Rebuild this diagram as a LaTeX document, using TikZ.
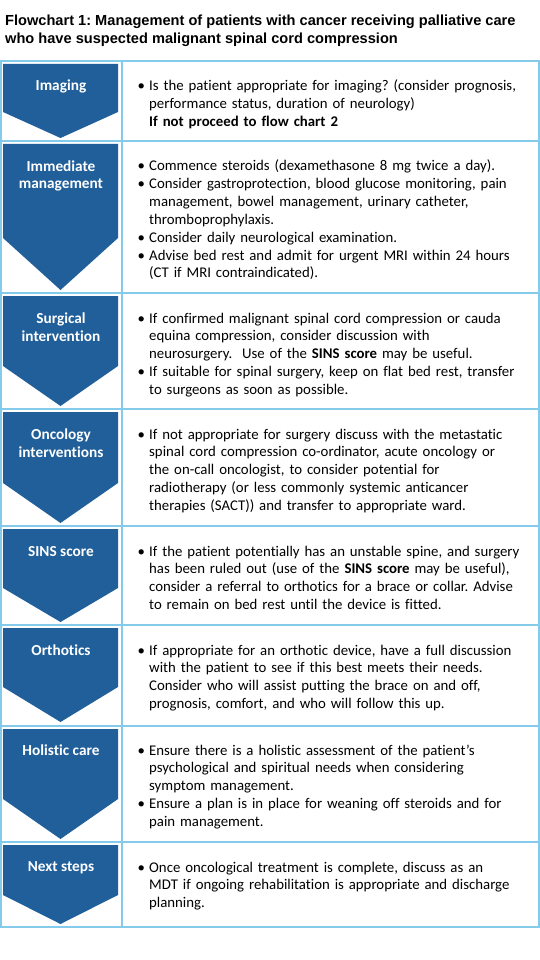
\documentclass[tikz,border=0pt]{standalone}
\usepackage{fontspec}
\setmainfont{Carlito}[Ligatures=NoCommon]
\newfontfamily\titlefont{Liberation Sans}
\definecolor{chevblue}{HTML}{215F9A}
\definecolor{gridblue}{HTML}{83CAEB}
\newcommand{\bitem}{\par\noindent\hangindent=11.5pt\hangafter=1\makebox[11.5pt][l]{\textbullet}}
\frenchspacing

\tikzset{
    stagelabel/.style={anchor=base, align=center, inner sep=0pt, text=white,
        font=\fontsize{15.3}{17.8}\selectfont\bfseries},
    stagetext/.style={anchor=north west, text width=395pt, align=left, inner sep=0pt,
        font=\fontsize{14.8}{17.8}\selectfont},
    gridline/.style={gridblue, line width=2pt}
}

\begin{document}
\begin{tikzpicture}[x=1pt, y=-1pt]
    \useasboundingbox[fill=white] (0,0) rectangle (540,960);

    \node[anchor=base west, align=left, inner sep=0pt,
          font=\titlefont\fontsize{14.6}{18.4}\selectfont\bfseries] (title) at (5,44)
        {Flowchart 1: Management of patients with cancer receiving palliative care\\
         who have suspected malignant spinal cord compression};

    % table frame
    \draw[gridline] (1,61) rectangle (539,927);
    \draw[gridline] (122,61) -- (122,927);
    \draw[gridline] (1,141) -- (539,141);
    \draw[gridline] (1,293) -- (539,293);
    \draw[gridline] (1,409) -- (539,409);
    \draw[gridline] (1,526) -- (539,526);
    \draw[gridline] (1,625) -- (539,625);
    \draw[gridline] (1,726) -- (539,726);
    \draw[gridline] (1,842) -- (539,842);

    % chevrons
    \fill[chevblue] (3,64) -- (118,64) -- (118,112) -- (60.5,138) -- (3,112) -- cycle;
    \fill[chevblue] (3,144) -- (118,144) -- (118,238) -- (60.5,290) -- (3,238) -- cycle;
    \fill[chevblue] (3,296) -- (118,296) -- (118,366) -- (60.5,406) -- (3,366) -- cycle;
    \fill[chevblue] (3,412) -- (118,412) -- (118,483) -- (60.5,523) -- (3,483) -- cycle;
    \fill[chevblue] (3,529) -- (118,529) -- (118,588) -- (60.5,622) -- (3,588) -- cycle;
    \fill[chevblue] (3,628) -- (118,628) -- (118,687) -- (60.5,722) -- (3,687) -- cycle;
    \fill[chevblue] (3,729) -- (118,729) -- (118,799) -- (60.5,839) -- (3,799) -- cycle;
    \fill[chevblue] (3,845) -- (118,845) -- (118,895) -- (60.5,924) -- (3,895) -- cycle;

    \node[stagelabel] (imaging) at (61,91) {Imaging};
    \node[stagelabel] (immediate) at (61,189) {Immediate\\management};
    \node[stagelabel] (surgical) at (61,341) {Surgical\\intervention};
    \node[stagelabel] (oncology) at (61,457) {Oncology\\interventions};
    \node[stagelabel] (sins) at (61,556) {SINS score};
    \node[stagelabel] (orthotics) at (61,655) {Orthotics};
    \node[stagelabel] (holistic) at (61,755) {Holistic care};
    \node[stagelabel] (nextsteps) at (61,871) {Next steps};

    \node[stagetext] (imagingtxt) at (137.5,73) {\bitem Is the patient appropriate for imaging? (consider prognosis,\newline
        performance status, duration of neurology)\newline
        \textbf{If not proceed to flow chart 2}\par};
    \node[stagetext] (immediatetxt) at (137.5,153) {\bitem Commence steroids (dexamethasone 8 mg twice a day).
        \bitem Consider gastroprotection, blood glucose monitoring, pain\newline
        management, bowel management, urinary catheter,\newline thromboprophylaxis.
        \bitem Consider daily neurological examination.
        \bitem Advise bed rest and admit for urgent MRI within 24 hours\newline
        (CT if MRI contraindicated).\par};
    \node[stagetext] (surgicaltxt) at (137.5,305) {\bitem If confirmed malignant spinal cord compression or cauda\newline
        equina compression, consider discussion with\newline
        neurosurgery.\ \ Use of the \textbf{SINS score} may be useful.
        \bitem If suitable for spinal surgery, keep on flat bed rest, transfer\newline
        to surgeons as soon as possible.\par};
    \node[stagetext] (oncologytxt) at (137.5,421) {\bitem If not appropriate for surgery discuss with the metastatic\newline
        spinal cord compression co-ordinator, acute oncology or\newline
        the on-call oncologist, to consider potential for\newline
        radiotherapy (or less commonly systemic anticancer\newline
        therapies (SACT)) and transfer to appropriate ward.\par};
    \node[stagetext] (sinstxt) at (137.5,538) {\bitem If the patient potentially has an unstable spine, and surgery\newline
        has been ruled out (use of the \textbf{SINS score} may be useful),\newline
        consider a referral to orthotics for a brace or collar. Advise\newline
        to remain on bed rest until the device is fitted.\par};
    \node[stagetext] (orthoticstxt) at (137.5,637) {\bitem If appropriate for an orthotic device, have a full discussion\newline
        with the patient to see if this best meets their needs.\newline
        Consider who will assist putting the brace on and off,\newline
        prognosis, comfort, and who will follow this up.\par};
    \node[stagetext] (holistictxt) at (137.5,737) {\bitem Ensure there is a holistic assessment of the patient's\newline
        psychological and spiritual needs when considering\newline
        symptom management.
        \bitem Ensure a plan is in place for weaning off steroids and for\newline
        pain management.\par};
    \node[stagetext] (nextstepstxt) at (137.5,854) {\bitem Once oncological treatment is complete, discuss as an\newline
        MDT if ongoing rehabilitation is appropriate and discharge\newline
        planning.\par};
\end{tikzpicture}
\end{document}
